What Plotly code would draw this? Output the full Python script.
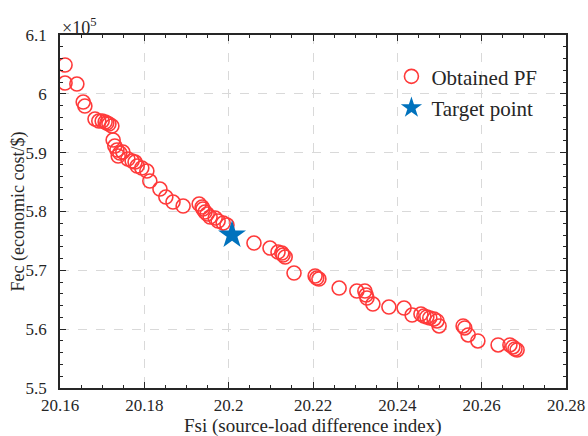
import plotly.graph_objects as go

fsi = [20.1612, 20.1612, 20.1640, 20.1655, 20.1659, 20.1683, 20.1692, 20.1700, 20.1707, 20.1711,
       20.1716, 20.1723, 20.1726, 20.1730, 20.1735, 20.1742, 20.1738, 20.1749, 20.1761, 20.1771,
       20.1778, 20.1783, 20.1794, 20.1806, 20.1813, 20.1837, 20.1851, 20.1868, 20.1892, 20.1930,
       20.1937, 20.1939, 20.1944, 20.1949, 20.1956, 20.1968, 20.1975, 20.1987, 20.1996, 20.2060,
       20.2098, 20.2117, 20.2126, 20.2129, 20.2134, 20.2155, 20.2205, 20.2209, 20.2214, 20.2262,
       20.2304, 20.2323, 20.2326, 20.2328, 20.2342, 20.2380, 20.2416, 20.2435, 20.2456, 20.2463,
       20.2470, 20.2477, 20.2487, 20.2494, 20.2499, 20.2556, 20.2560, 20.2568, 20.2591, 20.2639,
       20.2667, 20.2674, 20.2679, 20.2684]
fec = [6.049, 6.0184, 6.0167, 5.9861, 5.9793, 5.9572, 5.9538, 5.9538, 5.9521, 5.9504,
       5.9487, 5.9453, 5.9215, 5.9113, 5.9045, 5.8994, 5.8943, 5.9011, 5.8892, 5.8858,
       5.8841, 5.8773, 5.8739, 5.8688, 5.8518, 5.8382, 5.8246, 5.8161, 5.8093, 5.8127,
       5.8076, 5.8042, 5.7991, 5.7957, 5.7906, 5.7889, 5.7838, 5.7804, 5.7770, 5.7464,
       5.7379, 5.7311, 5.7294, 5.7260, 5.7226, 5.6954, 5.6903, 5.6869, 5.6852, 5.6699,
       5.6648, 5.6648, 5.6580, 5.6529, 5.6427, 5.6376, 5.6359, 5.6240, 5.6257, 5.6223,
       5.6207, 5.6190, 5.6173, 5.6139, 5.6054, 5.6054, 5.6020, 5.5901, 5.5799, 5.5731,
       5.5731, 5.5697, 5.5663, 5.5646]
target_fsi = [20.2008]
target_fec = [5.760]

x_ticks = [20.16, 20.18, 20.20, 20.22, 20.24, 20.26, 20.28]
x_ticktext = ["20.16", "20.18", "20.2", "20.22", "20.24", "20.26", "20.28"]
y_ticks = [5.5, 5.6, 5.7, 5.8, 5.9, 6.0, 6.1]
y_ticktext = ["5.5", "5.6", "5.7", "5.8", "5.9", "6", "6.1"]

FONT = "Liberation Serif"
INK = "#262626"

fig = go.Figure()
fig.add_trace(go.Scatter(
    x=fsi, y=fec, mode="markers", name="Obtained PF", legendgroup="a",
    marker=dict(symbol="circle-open", size=14, color="#ff3a3a", line=dict(width=1.6, color="#ff3a3a")),
))
fig.add_trace(go.Scatter(
    x=target_fsi, y=target_fec, mode="markers", name="Target point", legendgroup="b",
    marker=dict(symbol="star", size=21, color="#0072BD", line=dict(width=0)),
))

axis_common = dict(
    showline=True, linecolor=INK, linewidth=1.5, mirror="allticks",
    ticks="inside", ticklen=6, tickcolor=INK, tickwidth=1.2,
    showgrid=True, gridcolor="#d9d9d9", griddash="dash", gridwidth=1.2,
    zeroline=False, automargin=False,
    tickfont=dict(family=FONT, size=17, color=INK),
)

fig.update_xaxes(
    range=[20.16, 20.28], tickmode="array", tickvals=x_ticks, ticktext=x_ticktext,
    minor=dict(ticks="inside", ticklen=3, dtick=0.005, tick0=20.16, tickcolor=INK, showgrid=False),
    ticklabelstandoff=1,
    **axis_common,
)
fig.update_yaxes(
    range=[5.5, 6.1], tickmode="array", tickvals=y_ticks, ticktext=y_ticktext,
    minor=dict(ticks="inside", ticklen=3, dtick=0.02, tick0=5.5, tickcolor=INK, showgrid=False),
    ticklabelstandoff=8,
    **axis_common,
)

fig.add_annotation(
    xref="paper", yref="paper", x=0.5, y=0, xanchor="center", yanchor="middle",
    text="Fsi (source-load difference index)", showarrow=False, yshift=-38,
    font=dict(family=FONT, size=19, color=INK),
)
fig.add_annotation(
    xref="paper", yref="paper", x=0, y=0.5, xanchor="center", yanchor="middle",
    text="Fec (economic cost/$)", showarrow=False, xshift=-42, textangle=-90,
    font=dict(family=FONT, size=18, color=INK),
)
fig.add_annotation(
    xref="paper", yref="paper", x=0.0, y=1.0, xanchor="left", yanchor="bottom",
    text="×10<sup>5</sup>", showarrow=False, yshift=-5, xshift=0,
    font=dict(family=FONT, size=18, color=INK),
)

fig.update_layout(
    width=588, height=436,
    margin=dict(l=60, r=22, t=35, b=48),
    paper_bgcolor="white", plot_bgcolor="white",
    showlegend=True,
    legend=dict(x=0.655, y=0.94, xanchor="left", yanchor="top",
                bgcolor="rgba(0,0,0,0)", borderwidth=0,
                font=dict(family=FONT, size=21, color=INK),
                itemsizing="trace", traceorder="grouped", tracegroupgap=1),
)

fig.write_html("out.html", config={"displayModeBar": False},
               post_script="document.body.style.margin='0px';")
